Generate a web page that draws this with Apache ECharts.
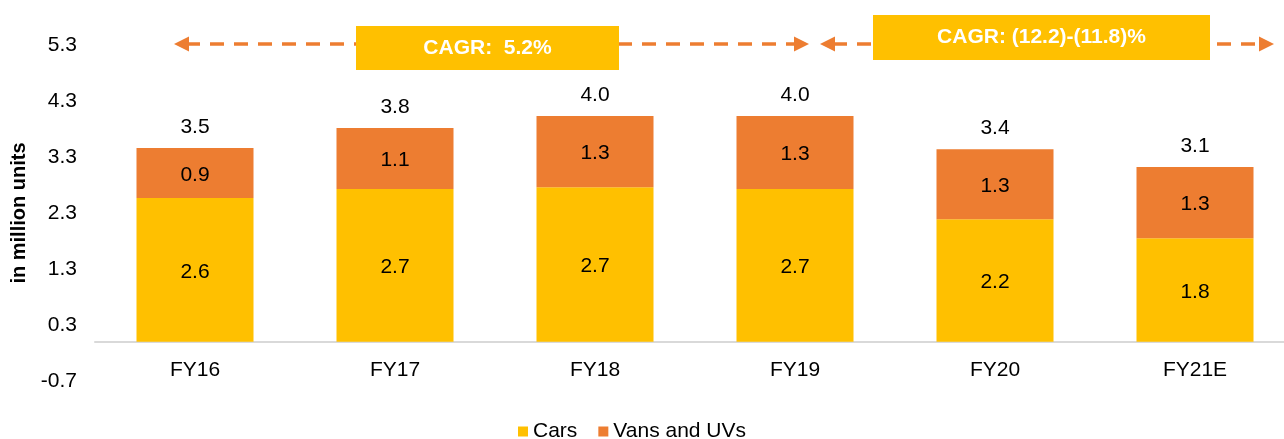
<!DOCTYPE html>
<html>
<head>
<meta charset="utf-8">
<script src="https://cdn.jsdelivr.net/npm/echarts@6/dist/echarts.min.js"></script>
<style>
html,body{margin:0;padding:0;background:#fff;}
#chart{width:1284px;height:439px;}
</style>
</head>
<body>
<div id="chart"></div>
<script>
const categories = ['FY16', 'FY17', 'FY18', 'FY19', 'FY20', 'FY21E'];
const carsValues = [2.57, 2.73, 2.76, 2.73, 2.19, 1.85];
const vansValues = [0.89, 1.09, 1.27, 1.30, 1.25, 1.27];
const carsLabels = ['2.6', '2.7', '2.7', '2.7', '2.2', '1.8'];
const vansLabels = ['0.9', '1.1', '1.3', '1.3', '1.3', '1.3'];
const totalLabels = ['3.5', '3.8', '4.0', '4.0', '3.4', '3.1'];
const yMin = -0.7, yMax = 5.3, yStep = 1;
const cagrTexts = ['CAGR:  5.2%', 'CAGR: (12.2)-(11.8)%'];

const FONT = "'Liberation Sans', Arial, sans-serif";
const ORANGE = '#ED7D31';
const YELLOW = '#FFC000';

const totals = carsValues.map((v, i) => +(v + vansValues[i]).toFixed(3));

const chart = echarts.init(document.getElementById('chart'), null, {renderer: 'canvas'});

function arrowGraphics() {
  const y = 44;
  const dash = {stroke: ORANGE, lineWidth: 3.5, lineDash: [14, 10]};
  const head = (tipX, dir) => ({
    type: 'polygon', z: 10,
    shape: {points: [[tipX, y], [tipX + dir * 15, y - 7.5], [tipX + dir * 15, y + 7.5]]},
    style: {fill: ORANGE}
  });
  const boxRect = (x, yTop, w, h) => ({
    type: 'rect', z: 20, shape: {x: x, y: yTop, width: w, height: h}, style: {fill: YELLOW}
  });
  const boxText = (x, yTop, w, h, text) => ({
    type: 'text', z: 30, x: x + w / 2, y: yTop + h / 2,
    style: {text: text, fill: '#fff', font: "bold 21px 'Liberation Sans', Arial, sans-serif",
            align: 'center', verticalAlign: 'middle'}
  });
  return [
    {type: 'line', z: 5, shape: {x1: 186, y1: y, x2: 797, y2: y}, style: dash},
    head(174, 1), head(809, -1),
    {type: 'line', z: 5, shape: {x1: 833, y1: y, x2: 1262, y2: y}, style: dash},
    head(820, 1), head(1274, -1),
    boxRect(356, 26, 263, 44),
    boxRect(873, 15, 337, 45),
    boxText(356, 26, 263, 44, cagrTexts[0]),
    boxText(873, 15, 337, 45, cagrTexts[1])
  ];
}

chart.setOption({
  animation: false,
  backgroundColor: '#fff',
  textStyle: {fontFamily: FONT},
  grid: {left: 95, right: -11, top: 45, bottom: 58, containLabel: false, outerBoundsMode: 'none'},
  legend: {
    data: ['Cars', 'Vans and UVs'],
    top: 416, left: 513,
    icon: 'rect', itemWidth: 10, itemHeight: 10, itemGap: 21,
    textStyle: {fontSize: 21, color: '#000', fontFamily: FONT}
  },
  xAxis: {
    type: 'category',
    data: categories,
    axisLine: {show: true, onZero: true, lineStyle: {color: '#D9D9D9', width: 2}},
    axisTick: {show: false},
    axisLabel: {fontSize: 21, color: '#000', margin: -21, fontFamily: FONT}
  },
  yAxis: {
    type: 'value',
    min: yMin, max: yMax, interval: yStep,
    name: 'in million units',
    nameLocation: 'middle',
    nameGap: 64,
    nameRotate: 90,
    nameTextStyle: {fontSize: 20, fontWeight: 'bold', color: '#000', fontFamily: FONT},
    axisLine: {show: false},
    axisTick: {show: false},
    splitLine: {show: false},
    axisLabel: {fontSize: 21, color: '#000', margin: 18, fontFamily: FONT,
                formatter: v => v.toFixed(1)}
  },
  series: [
    {
      name: 'Cars', type: 'bar', stack: 'total', barWidth: '58.5%',
      itemStyle: {color: YELLOW},
      data: carsValues,
      label: {show: true, position: 'inside', offset: [0, 2], fontSize: 21, color: '#000', fontFamily: FONT,
              formatter: p => carsLabels[p.dataIndex]}
    },
    {
      name: 'Vans and UVs', type: 'bar', stack: 'total', barWidth: '58.5%',
      itemStyle: {color: ORANGE},
      data: vansValues,
      label: {show: true, position: 'inside', offset: [0, 2], fontSize: 21, color: '#000', fontFamily: FONT,
              formatter: p => vansLabels[p.dataIndex]}
    },
    {
      name: 'Total', type: 'line', data: totals,
      symbol: 'circle', symbolSize: 1, showSymbol: true,
      itemStyle: {color: 'rgba(0,0,0,0)'},
      lineStyle: {opacity: 0}, silent: true,
      label: {show: true, position: 'top', distance: 10, fontSize: 21, color: '#000', fontFamily: FONT,
              formatter: p => totalLabels[p.dataIndex]}
    }
  ],
  graphic: arrowGraphics()
});
</script>
</body>
</html>
